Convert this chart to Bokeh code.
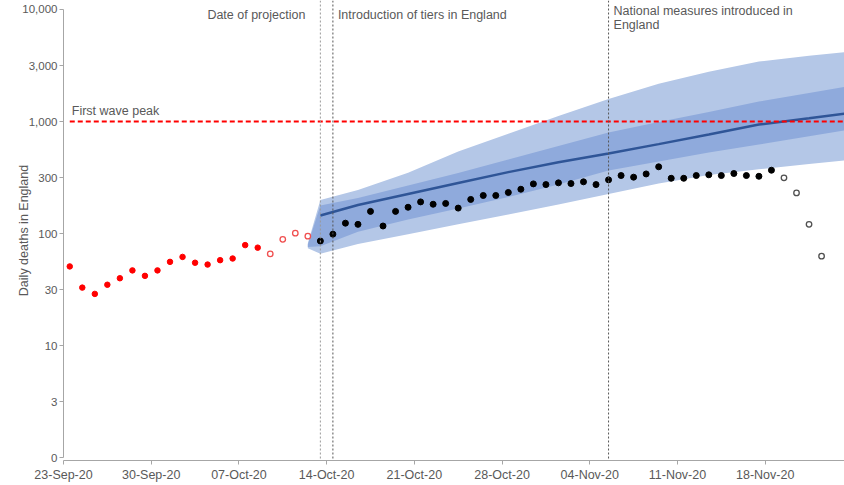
import pandas as pd
from bokeh.plotting import figure
from bokeh.models import Range1d, FixedTicker, CustomJSTickFormatter, DatetimeTickFormatter, Span, Label
from bokeh.embed import file_html
from bokeh.resources import INLINE

# ---------------- data ----------------
first_date = "2020-09-23"
# observed daily deaths (plotted at midday of each day)
red_filled = [51, 33, 29, 35, 40, 47, 42, 47, 56, 62, 55, 53, 58, 60, 79, 75]          # 23 Sep - 08 Oct
red_open = [66, 89, 101, 95]                                                            # 09 Oct - 12 Oct
black_filled = [86, 99, 124, 121, 158, 117, 158, 172, 192, 183, 186, 169, 202, 219, 219,
                233, 249, 278, 274, 284, 280, 290, 274, 302, 330, 319, 341, 395, 312, 312,
                330, 335, 330, 344, 330, 325, 368]                                      # 13 Oct - 18 Nov
black_open = [315, 231, 121, 63]                                                        # 19 Nov - 22 Nov

# projection bands
band_dates = ["2020-10-12", "2020-10-13", "2020-10-16", "2020-10-20", "2020-10-24", "2020-10-28",
              "2020-11-01", "2020-11-05", "2020-11-09", "2020-11-13", "2020-11-17", "2020-11-21",
              "2020-11-24"]
light_hi = [82, 200, 245, 350, 540, 780, 1120, 1590, 2170, 2780, 3430, 3860, 4170]
light_lo = [74, 66, 81, 99, 121, 148, 182, 226, 280, 333, 375, 418, 452]
dark_hi = [80, 178, 208, 269, 347, 458, 605, 798, 990, 1220, 1510, 1800, 2050]
dark_lo = [76, 77, 104, 134, 168, 212, 274, 366, 440, 529, 623, 739, 840]
line_dates = band_dates[1:]
central = [145, 180, 226, 283, 354, 434, 518, 629, 766, 940, 1070, 1180]

first_wave_peak = 1000
event_labels = ["Date of projection", "Introduction of tiers in England",
                "National measures introduced in", "England"]
event_dates = ["2020-10-13 12:00", "2020-10-14 12:00", "2020-11-05 12:00"]

x_tick_dates = ["2020-09-23", "2020-09-30", "2020-10-07", "2020-10-14", "2020-10-21",
                "2020-10-28", "2020-11-04", "2020-11-11", "2020-11-18"]
y_tick_values = [1, 10 ** 0.5, 10, 10 ** 1.5, 100, 10 ** 2.5, 1000, 10 ** 3.5, 10000]
y_tick_labels = ["0", "3", "10", "30", "100", "300", "1,000", "3,000", "10,000"]


def ms(d):
    return pd.Timestamp(d).value / 1e6


HALF_DAY = 12 * 3600 * 1000
days = [ms(d) + HALF_DAY for d in pd.date_range(first_date, periods=61)]
n1, n2, n3 = len(red_filled), len(red_open), len(black_filled)
x_red_f = days[:n1]
x_red_o = days[n1:n1 + n2]
x_blk_f = days[n1 + n2:n1 + n2 + n3]
x_blk_o = days[n1 + n2 + n3:]
x_band = [ms(d) + HALF_DAY for d in band_dates]
x_line = [ms(d) + HALF_DAY for d in line_dates]

x_start = ms(first_date)
x_end = x_start + 62.33 * 24 * 3600 * 1000

TEXT = "#595959"
FONT = "Liberation Sans"

p = figure(width=844, height=485, output_backend="svg", toolbar_location=None,
           y_axis_type="log",
           x_range=Range1d(x_start, x_end),
           y_range=Range1d(10 ** (-2.7 / 112.1), 10 ** (4 + 9 / 112.1)))
p.min_border_left = 63
p.min_border_right = 0
p.min_border_top = 0
p.min_border_bottom = 25
p.outline_line_color = None
p.xgrid.visible = False
p.ygrid.visible = False

# bands
p.varea(x=x_band, y1=light_lo, y2=light_hi, fill_color="#B4C7E7")
p.varea(x=x_band, y1=dark_lo, y2=dark_hi, fill_color="#8FAADC")
p.line(x=x_line, y=central, line_color="#2F5597", line_width=2.5)

# first wave peak
p.segment(x0=[days[0]], y0=[first_wave_peak], x1=[x_end], y1=[first_wave_peak],
          line_color="#FF0000", line_width=2, line_dash="5 3")

# events
span_colors = ["#9A9A9A", "#555555", "#555555"]
for d, c in zip(event_dates, span_colors):
    p.add_layout(Span(location=ms(d), dimension="height", line_color=c,
                      line_width=1, line_dash="2 2"))

# observed points
p.scatter(x_red_f, red_filled, size=5.5, marker="circle", fill_color="#FF0000", line_color="#FF0000")
p.scatter(x_red_o, red_open, size=5.5, marker="circle", fill_color="white", line_color="#F05050", line_width=1.3)
p.scatter(x_blk_f, black_filled, size=6, marker="circle", fill_color="#000000", line_color="#000000")
p.scatter(x_blk_o, black_open, size=5.5, marker="circle", fill_color="white", line_color="#505050", line_width=1.3)

# labels
lab_kw = dict(text_font=FONT, text_font_size="12.5px", text_color=TEXT)
p.add_layout(Label(x=days[0], y=first_wave_peak, text="First wave peak", x_offset=2, y_offset=4,
                   text_baseline="bottom", **lab_kw))
p.add_layout(Label(x=ms(event_dates[0]), y=10000, text=event_labels[0], x_offset=-15, y_offset=-6,
                   text_align="right", text_baseline="middle", **lab_kw))
p.add_layout(Label(x=ms(event_dates[1]), y=10000, text=event_labels[1], x_offset=5, y_offset=-6,
                   text_align="left", text_baseline="middle", **lab_kw))
p.add_layout(Label(x=ms(event_dates[2]), y=10000, text=event_labels[2], x_offset=5, y_offset=-1.5,
                   text_align="left", text_baseline="middle", **lab_kw))
p.add_layout(Label(x=ms(event_dates[2]), y=10000, text=event_labels[3], x_offset=5, y_offset=-15.5,
                   text_align="left", text_baseline="middle", **lab_kw))

# axes
for ax in (p.xaxis[0], p.yaxis[0]):
    ax.axis_line_color = "#A6A6A6"
    ax.major_tick_line_color = "#A6A6A6"
    ax.major_tick_out = 4
    ax.major_tick_in = 0
    ax.minor_tick_out = 0
    ax.minor_tick_in = 0
    ax.major_label_text_color = TEXT
    ax.major_label_text_font = FONT

p.xaxis.ticker = FixedTicker(ticks=[ms(d) for d in x_tick_dates])
p.xaxis.formatter = DatetimeTickFormatter(days="%d-%b-%y", months="%d-%b-%y", years="%d-%b-%y")
p.xaxis.major_label_text_font_size = "12.5px"
p.xaxis.major_label_standoff = 3

p.yaxis.ticker = FixedTicker(ticks=y_tick_values)
p.yaxis.formatter = CustomJSTickFormatter(args=dict(labels=y_tick_labels), code="""
const i = Math.round(Math.log10(tick) * 2);
return labels[i];
""")
p.yaxis.bounds = (1, 10000)
p.yaxis.major_label_text_font_size = "11.5px"
p.yaxis.major_label_standoff = 2
p.yaxis.axis_label = "Daily deaths in England"
p.yaxis.axis_label_text_font = FONT
p.yaxis.axis_label_text_font_size = "12.5px"
p.yaxis.axis_label_text_font_style = "normal"
p.yaxis.axis_label_text_color = TEXT
p.yaxis.axis_label_standoff = -12

open("out.html", "w").write(file_html(p, INLINE))
